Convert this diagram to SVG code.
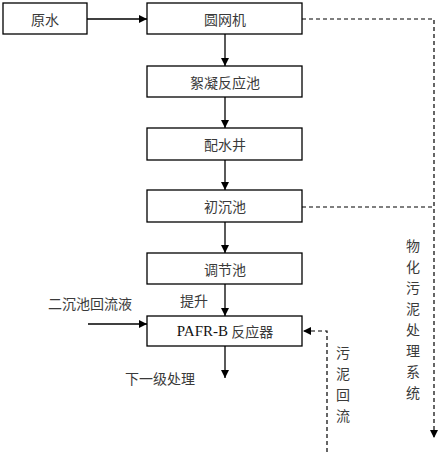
<svg xmlns="http://www.w3.org/2000/svg" width="440" height="456" viewBox="0 0 440 456">
<style>
.box{fill:#fff;stroke:#000;stroke-width:1.3}
.t{font-family:"Noto Sans CJK SC","Noto Sans",sans-serif;font-size:14px;fill:#3a3a3a;text-anchor:middle;dominant-baseline:central}
.s{font-family:"Liberation Serif","Noto Sans CJK SC",serif;font-size:15px;fill:#111}
.ln{stroke:#000;stroke-width:1.3;fill:none}
.dl{stroke:#000;stroke-width:1.2;fill:none;stroke-dasharray:4 3}
</style>
<defs>
<marker id="ah" viewBox="0 0 10 10" refX="10" refY="5" markerWidth="8" markerHeight="8" markerUnits="userSpaceOnUse" orient="auto">
<path d="M0,0L10,5L0,10z" fill="#000"/>
</marker>
</defs>
<rect width="440" height="456" fill="#fff"/>
<g id="connectors">
<line class="ln" x1="87" y1="19" x2="147" y2="19" marker-end="url(#ah)"/>
<line class="ln" x1="225" y1="34" x2="225" y2="66" marker-end="url(#ah)"/>
<line class="ln" x1="225" y1="97" x2="225" y2="128" marker-end="url(#ah)"/>
<line class="ln" x1="225" y1="160" x2="225" y2="190" marker-end="url(#ah)"/>
<line class="ln" x1="225" y1="222" x2="225" y2="253" marker-end="url(#ah)"/>
<line class="ln" x1="225" y1="284" x2="225" y2="316" marker-end="url(#ah)"/>
<line class="ln" x1="88" y1="324" x2="147" y2="324" marker-end="url(#ah)"/>
<line class="ln" x1="225" y1="346" x2="225" y2="378" marker-end="url(#ah)"/>
<polyline class="dl" points="302,19 434,19 434,438" marker-end="url(#ah)"/>
<line class="dl" x1="302" y1="207" x2="434" y2="207"/>
<polyline class="dl" points="327,452 327,331 303,331" marker-end="url(#ah)"/>
</g>
<g id="n1"><rect class="box" x="3" y="3" width="84" height="31"/><text class="t" x="45" y="19">原水</text></g>
<g id="n2"><rect class="box" x="147" y="3" width="155" height="31"/><text class="t" x="225" y="19">圆网机</text></g>
<g id="n3"><rect class="box" x="147" y="66" width="155" height="31"/><text class="t" x="225" y="82">絮凝反应池</text></g>
<g id="n4"><rect class="box" x="147" y="128" width="155" height="32"/><text class="t" x="225" y="144">配水井</text></g>
<g id="n5"><rect class="box" x="147" y="190" width="155" height="32"/><text class="t" x="225" y="206">初沉池</text></g>
<g id="n6"><rect class="box" x="147" y="253" width="155" height="31"/><text class="t" x="225" y="269">调节池</text></g>
<g id="n7"><rect class="box" x="147" y="316" width="155" height="30"/><text class="t" x="225" y="331"><tspan class="s">PAFR-B</tspan> 反应器</text></g>
<g id="labels">
<text class="t" x="90" y="303">二沉池回流液</text>
<text class="t" x="194" y="300">提升</text>
<text class="t" x="160" y="378">下一级处理</text>
<text class="t" x="343" y="352">污</text>
<text class="t" x="343" y="373">泥</text>
<text class="t" x="343" y="394">回</text>
<text class="t" x="343" y="415">流</text>
<text class="t" x="413" y="245">物</text>
<text class="t" x="413" y="266">化</text>
<text class="t" x="413" y="287">污</text>
<text class="t" x="413" y="308">泥</text>
<text class="t" x="413" y="329">处</text>
<text class="t" x="413" y="350">理</text>
<text class="t" x="413" y="371">系</text>
<text class="t" x="413" y="392">统</text>
</g>
</svg>
